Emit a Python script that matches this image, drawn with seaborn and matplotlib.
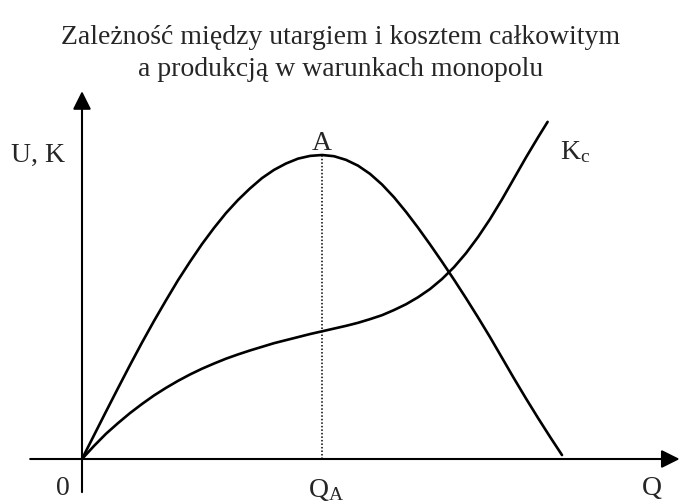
import matplotlib
matplotlib.use("Agg")
import matplotlib.pyplot as plt
import numpy as np
import pandas as pd
import seaborn as sns

# Production (Q) grid and the two curves: revenue U(Q) and total cost Kc(Q)
q_revenue = [i * 0.25 for i in range(41)]  # 0 .. 10
revenue = [0, 7.8, 15.6, 23.3, 30.9, 38.3, 45.4, 52.2, 58.8, 64.9, 70.7,
           76.0, 80.9, 85.2, 89.0, 92.4, 95.1, 97.2, 98.8, 99.7, 100,
           99.6, 98.4, 96.5, 93.8, 90.3, 86.1, 81.3, 76.1, 70.6, 64.9,
           59.0, 52.9, 46.6, 40.1, 33.3, 26.5, 19.9, 13.5, 7.3, 1.3]

q_cost = [i * 0.25 for i in range(39)] + [9.7]  # 0 .. 9.7
cost = [0, 4.3, 8.3, 11.8, 15.1, 18.1, 20.9, 23.4, 25.7, 27.8, 29.7,
        31.4, 33.0, 34.4, 35.7, 36.9, 38.1, 39.1, 40.1, 41.1, 42.0,
        42.9, 43.8, 44.8, 46.0, 47.3, 49.0, 50.9, 53.2, 55.9, 59.2,
        63.1, 67.7, 73.0, 78.9, 85.4, 92.3, 99.2, 105.8, 110.9]

q_a = 5.0      # output at maximum revenue (point A)
u_a = 100.0    # maximum revenue

title_lines = ["Zależność między utargiem i kosztem całkowitym",
               "a produkcją w warunkach monopolu"]

sns.set_style("white")
plt.rcParams["font.family"] = ["Liberation Serif", "DejaVu Serif"]
plt.rcParams["mathtext.fontset"] = "custom"
plt.rcParams["mathtext.rm"] = "Liberation Serif"
plt.rcParams["mathtext.it"] = "Liberation Serif"

fig = plt.figure(figsize=(6.81, 5.04), dpi=100)
ax = fig.add_axes([0, 0, 1, 1])

df_u = pd.DataFrame({"Q": q_revenue, "U": revenue})
df_k = pd.DataFrame({"Q": q_cost, "K": cost})

sns.lineplot(data=df_u, x="Q", y="U", ax=ax, color="black", lw=1.9,
             sort=False, estimator=None)
sns.lineplot(data=df_k, x="Q", y="K", ax=ax, color="black", lw=1.9,
             sort=False, estimator=None)

# dotted drop line from A to the Q axis
ax.plot([q_a, q_a], [0, u_a], color="black", lw=1.1,
        linestyle=(0, (1, 1.3)))

# coordinate axes with arrow heads
arrow = dict(arrowstyle="-|>,head_length=1.1,head_width=0.55",
             color="black", lw=1.5, mutation_scale=10, shrinkA=0, shrinkB=0)
ax.annotate("", xy=(12.45, 0), xytext=(-1.08, 0), arrowprops=arrow)
ax.annotate("", xy=(0, 121.0), xytext=(0, -10.9), arrowprops=arrow)

ax.set_xlim(-82 / 48, (681 - 82) / 48)
ax.set_ylim(-45 / 3.04, 459 / 3.04)
ax.axis("off")

fs = 20
ax.text(-0.40, -9.6, "0", fontsize=fs, ha="center", va="center")
ax.text(5.08, -10.2, r"Q$_\mathrm{A}$", fontsize=fs, ha="center", va="center")
ax.text(11.875, -9.8, "Q", fontsize=fs, ha="center", va="center")
ax.text(-0.92, 100.0, "U, K", fontsize=fs, ha="center", va="center")
ax.text(q_a, 103.8, "A", fontsize=fs, ha="center", va="center")
ax.text(10.28, 101.0, r"K$_\mathrm{c}$", fontsize=fs, ha="center", va="center")

fig.text(341 / 681, 1 - 37 / 504, title_lines[0], fontsize=fs,
         ha="center", va="center")
fig.text(341 / 681, 1 - 70 / 504, title_lines[1], fontsize=fs,
         ha="center", va="center")

fig.savefig("out.png", dpi=100)
